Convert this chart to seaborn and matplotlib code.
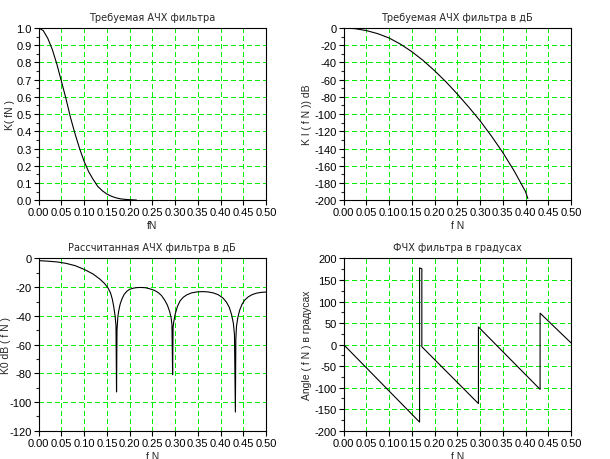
import matplotlib
matplotlib.use("Agg")
import matplotlib.pyplot as plt
from matplotlib.ticker import MultipleLocator, AutoMinorLocator, FormatStrFormatter
import pandas as pd
import seaborn as sns

# требуемая АЧХ (линейная)
f_req = [0.00, 0.01, 0.02, 0.03, 0.04, 0.05, 0.06, 0.07, 0.08, 0.09, 0.10, 0.11,
         0.12, 0.13, 0.14, 0.15, 0.16, 0.17, 0.18, 0.19, 0.20, 0.21, 0.215]
k_req = [1.0, 0.985, 0.94, 0.875, 0.79, 0.69, 0.59, 0.48, 0.385, 0.30, 0.225, 0.165,
         0.12, 0.08, 0.055, 0.036, 0.023, 0.014, 0.008, 0.005, 0.003, 0.002, 0.001]

# требуемая АЧХ в дБ
f_req_db = [0.0, 0.025, 0.05, 0.075, 0.10, 0.125, 0.15, 0.175, 0.20, 0.225, 0.25,
            0.275, 0.30, 0.325, 0.35, 0.375, 0.40, 0.405]
k_req_db = [0.0, -0.8, -3.0, -6.6, -11.6, -18.8, -27.5, -37.8, -49.6, -62.5, -76.7,
            -91.8, -107.7, -125.5, -144.6, -166.0, -190.0, -198.0]

# рассчитанная АЧХ в дБ
f_calc = [0.000, 0.020, 0.040, 0.050, 0.060, 0.080, 0.100, 0.120, 0.135, 0.145,
          0.152, 0.158, 0.162, 0.165, 0.168, 0.170, 0.1712, 0.1722, 0.174, 0.176,
          0.179, 0.183, 0.188, 0.194, 0.200, 0.208, 0.216, 0.225, 0.235, 0.245,
          0.255, 0.263, 0.270, 0.277, 0.283, 0.288, 0.291, 0.293, 0.2945, 0.2955,
          0.297, 0.300, 0.305, 0.311, 0.318, 0.326, 0.336, 0.348, 0.360, 0.372,
          0.384, 0.395, 0.405, 0.413, 0.419, 0.424, 0.428, 0.4305, 0.4325, 0.4335,
          0.435, 0.438, 0.442, 0.447, 0.453, 0.461, 0.470, 0.480, 0.490, 0.500]
k_calc_db = [-1.5, -1.9, -2.4, -2.9, -3.4, -5.0, -7.6, -10.9, -14.5, -17.5,
             -20.3, -24.0, -28.5, -33.5, -40.0, -47.0, -93.0, -50.0, -41.0, -36.5,
             -32.0, -28.3, -25.0, -22.8, -21.5, -20.7, -20.3, -20.2, -20.4, -21.2,
             -22.3, -23.8, -25.8, -29.0, -32.5, -37.0, -41.0, -46.0, -81.0, -48.0,
             -44.0, -39.0, -33.5, -29.5, -27.0, -25.3, -24.0, -23.3, -23.1, -23.3,
             -24.0, -25.3, -27.5, -30.5, -34.0, -39.0, -45.0, -53.0, -107.0, -56.0,
             -47.0, -41.0, -36.0, -32.0, -29.0, -26.7, -25.1, -24.1, -23.6, -23.4]

# ФЧХ в градусах
f_phase = [0.0, 0.167, 0.167, 0.172, 0.172, 0.2964, 0.2964, 0.432, 0.432, 0.5]
phase = [0, -180, 178, 176, -5, -137, 41, -104, 73, 4]

sns.set_style("ticks")
plt.rcParams["font.family"] = ["Liberation Sans", "DejaVu Sans"]
plt.rcParams["axes.unicode_minus"] = False

fig, axes = plt.subplots(2, 2, figsize=(6.1, 4.6), dpi=100)
fig.subplots_adjust(left=0.0634, right=0.9361, bottom=0.0615, top=0.937,
                    wspace=0.341, hspace=0.338)


def setup(ax, ylim, ystep, yfmt, title, xlabel, ylabel, labx):
    ax.set_xlim(0, 0.5)
    ax.set_ylim(*ylim)
    ax.xaxis.set_major_locator(MultipleLocator(0.05))
    ax.xaxis.set_major_formatter(FormatStrFormatter("%.2f"))
    ax.yaxis.set_major_locator(MultipleLocator(ystep))
    ax.yaxis.set_minor_locator(AutoMinorLocator(2))
    ax.yaxis.set_major_formatter(FormatStrFormatter(yfmt))
    ax.grid(True, which="major", color="#00ee00", linestyle=(0, (4, 3)),
            linewidth=0.75, antialiased=False)
    ax.tick_params(which="major", direction="out", length=3.5, width=0.8,
                   pad=1.5, labelsize=8, colors="black")
    ax.tick_params(which="minor", direction="out", length=2, width=0.8)
    for s in ax.spines.values():
        s.set_visible(True)
        s.set_linewidth(0.8)
        s.set_color("black")
    ax.set_title(title, fontsize=7, family="DejaVu Sans", pad=6)
    ax.set_xlabel(xlabel, fontsize=7.5)
    ax.set_ylabel(ylabel, fontsize=7.5)
    ax.xaxis.set_label_coords(0.5, -0.115)
    ax.yaxis.set_label_coords(labx, 0.5)


ax = axes[0, 0]
sns.lineplot(x=f_req, y=k_req, ax=ax, color="black", linewidth=0.8,
             estimator=None, sort=False)
setup(ax, (0, 1), 0.1, "%.1f", "Требуемая АЧХ фильтра", "fN", "K( fN )", -0.102)

ax = axes[0, 1]
sns.lineplot(x=f_req_db, y=k_req_db, ax=ax, color="black", linewidth=0.8,
             estimator=None, sort=False)
setup(ax, (-200, 0), 20, "%d", "Требуемая АЧХ фильтра в дБ", "f N",
      "K I ( f N )) dB", -0.1375)

ax = axes[1, 0]
sns.lineplot(x=f_calc, y=k_calc_db, ax=ax, color="black", linewidth=0.8,
             estimator=None, sort=False)
setup(ax, (-120, 0), 20, "%d", "Рассчитанная АЧХ фильтра в дБ", "f N",
      "K0 dB ( f N )", -0.122)

ax = axes[1, 1]
sns.lineplot(x=f_phase, y=phase, ax=ax, color="black", linewidth=0.8,
             estimator=None, sort=False)
setup(ax, (-200, 200), 50, "%d", "ФЧХ фильтра в градусах", "f N",
      "Angle ( f N ) в градусах", -0.1375)

fig.savefig("out.png", dpi=100)
